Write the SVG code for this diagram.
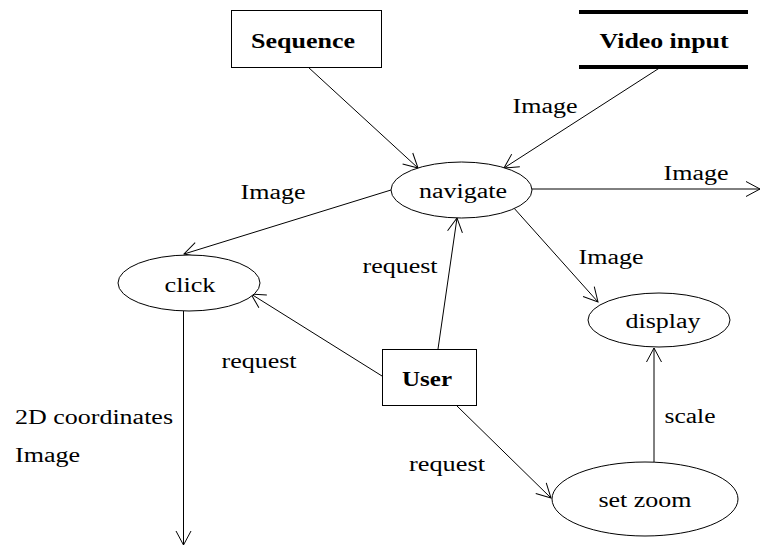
<svg xmlns="http://www.w3.org/2000/svg" width="760" height="546" viewBox="0 0 760 546">
<style>
text{font-family:'Liberation Serif',Tinos,'Times New Roman',Times,serif;font-size:20px;fill:#000;text-anchor:middle}
.b{font-weight:bold}
.l{text-anchor:start}
.n{fill:#fff;stroke:#000;stroke-width:1}
.e{fill:none;stroke:#000;stroke-width:1;marker-end:url(#ah)}
</style>
<defs>
<marker id="ah" markerUnits="userSpaceOnUse" viewBox="-14 -8 16 16" refX="0" refY="0" markerWidth="16" markerHeight="16" orient="auto" overflow="visible">
<path d="M-14,-7.5 L0,0 L-14,7.5" fill="none" stroke="#000" stroke-width="1"/>
</marker>
</defs>
<rect width="760" height="546" fill="#fff"/>
<g id="connectors">
<line class="e" x1="308" y1="67" x2="418" y2="168"/>
<line class="e" x1="661" y1="67" x2="504" y2="168"/>
<line class="e" x1="532" y1="189" x2="760" y2="189"/>
<line class="e" x1="391" y1="190" x2="184" y2="254"/>
<line class="e" x1="513" y1="207" x2="598" y2="302"/>
<line class="e" x1="438" y1="349" x2="457" y2="218"/>
<line class="e" x1="382" y1="376" x2="251" y2="294"/>
<line class="e" x1="183.5" y1="311" x2="183.5" y2="545"/>
<line class="e" x1="457" y1="406" x2="551" y2="498"/>
<line class="e" x1="654" y1="462" x2="654" y2="348"/>
<text x="545" y="113" textLength="65" lengthAdjust="spacingAndGlyphs">Image</text>
<text x="273" y="199" textLength="65" lengthAdjust="spacingAndGlyphs">Image</text>
<text x="696" y="180" textLength="65" lengthAdjust="spacingAndGlyphs">Image</text>
<text x="611" y="264" textLength="65" lengthAdjust="spacingAndGlyphs">Image</text>
<text x="400" y="273" textLength="75" lengthAdjust="spacingAndGlyphs">request</text>
<text x="259" y="368" textLength="75" lengthAdjust="spacingAndGlyphs">request</text>
<text x="447" y="471" textLength="76" lengthAdjust="spacingAndGlyphs">request</text>
<text x="690" y="423" textLength="51" lengthAdjust="spacingAndGlyphs">scale</text>
<text class="l" x="15" y="424" textLength="158" lengthAdjust="spacingAndGlyphs">2D coordinates</text>
<text class="l" x="15" y="462" textLength="65" lengthAdjust="spacingAndGlyphs">Image</text>
</g>
<g id="sequence">
<rect class="n" x="231.5" y="10.5" width="150" height="57"/>
<text class="b" x="303" y="48" textLength="104" lengthAdjust="spacingAndGlyphs">Sequence</text>
</g>
<g id="video-input">
<line x1="579" y1="12" x2="748" y2="12" stroke="#000" stroke-width="4"/>
<line x1="579" y1="67" x2="748" y2="67" stroke="#000" stroke-width="4"/>
<text class="b" x="664" y="48" textLength="129" lengthAdjust="spacingAndGlyphs">Video input</text>
</g>
<g id="navigate">
<ellipse class="n" cx="461.5" cy="190" rx="70.5" ry="28"/>
<text x="463" y="198" textLength="88" lengthAdjust="spacingAndGlyphs">navigate</text>
</g>
<g id="click">
<ellipse class="n" cx="189" cy="283" rx="71" ry="28"/>
<text x="190" y="292" textLength="51" lengthAdjust="spacingAndGlyphs">click</text>
</g>
<g id="display">
<ellipse class="n" cx="659" cy="320" rx="71" ry="27"/>
<text x="663" y="328" textLength="75" lengthAdjust="spacingAndGlyphs">display</text>
</g>
<g id="user">
<rect class="n" x="382.5" y="349.5" width="94" height="56"/>
<text class="b" x="427" y="386" textLength="50" lengthAdjust="spacingAndGlyphs">User</text>
</g>
<g id="set-zoom">
<ellipse class="n" cx="645" cy="499" rx="93" ry="37"/>
<text x="645" y="507" textLength="93" lengthAdjust="spacingAndGlyphs">set zoom</text>
</g>
</svg>
